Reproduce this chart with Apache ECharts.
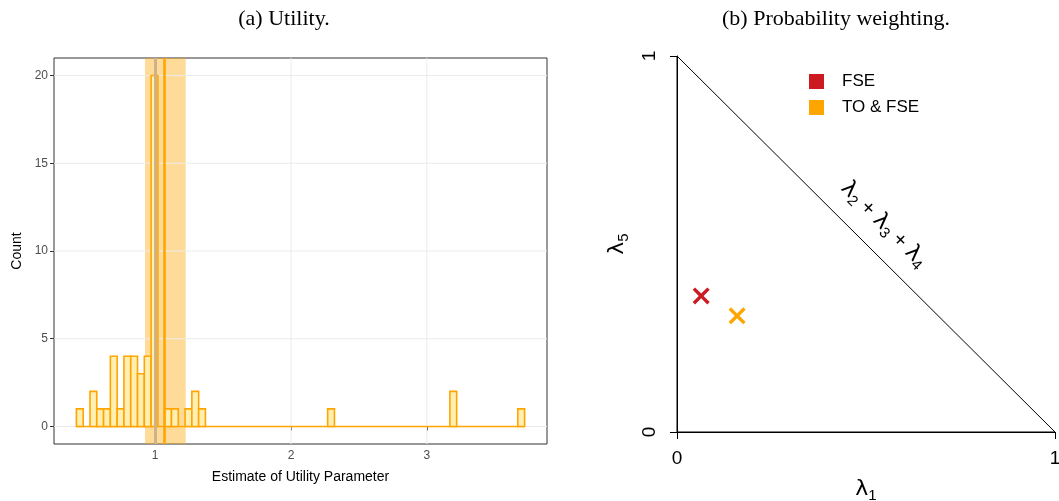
<!DOCTYPE html>
<html><head><meta charset="utf-8">
<script src="https://cdn.jsdelivr.net/npm/echarts@6/dist/echarts.min.js"></script>
<style>html,body{margin:0;padding:0;background:#fff}#c{width:1059px;height:501px}</style>
</head><body><div id="c"></div>
<script>
// ---- data (a) histogram ----
const binStart = 0.42;
const binWidth = 0.05;
const counts = [1,0,2,1,1,4,1,4,4,3,4,20,0,1,1,0,1,2,1,
  0,0,0,0,0,0,0,0,0,0,0,0,0,0,0,0,0,0,
  1,
  0,0,0,0,0,0,0,0,0,0,0,0,0,0,0,0,0,
  2,
  0,0,0,0,0,0,0,0,0,
  1];
const estimate = 1.075;
const bandLow = 0.925;
const bandHigh = 1.225;
const refLine = 1.0;
const xTicksA = [1, 2, 3];
const yTicksA = [0, 5, 10, 15, 20];
// ---- data (b) probability weighting ----
const triangle = [[0,0],[1,0],[0,1],[0,0]];
const fsePoint = [0.064, 0.362];
const toFsePoint = [0.159, 0.309];
const diagLabelPos = [0.547, 0.552];
const ticksB = [0, 1];

const ORANGE = '#FFA500';
const RED = '#CC1A20';
const histData = counts.map((c, i) => [binStart + i * binWidth, binStart + (i + 1) * binWidth, c]);
const baseLine = [[binStart, 0], [binStart + counts.length * binWidth, 0]];
const gridData = xTicksA.map(v => ['x', v]).concat(yTicksA.map(v => ['y', v]));
const X_PATH = 'path://M0,0.14 L0.14,0 L0.5,0.36 L0.86,0 L1,0.14 L0.64,0.5 L1,0.86 L0.86,1 L0.5,0.64 L0.14,1 L0,0.86 L0.36,0.5 Z';

const chart = echarts.init(document.getElementById('c'), null, {renderer: 'canvas'});
const subRich = {
  l: {fontFamily: 'DejaVu Sans', fontSize: 22, color: '#000'},
  s: {fontFamily: 'Liberation Sans', fontSize: 15, color: '#000', verticalAlign: 'bottom', padding: [12, 0, 0, 0]},
  p: {fontFamily: 'Liberation Sans', fontSize: 21, color: '#000'}
};
chart.setOption({
  animation: false,
  backgroundColor: '#fff',
  title: [
    {text: '(a) Utility.', left: 279, top: 3, textAlign: 'center',
     textStyle: {fontFamily: 'Liberation Serif', fontSize: 22, fontWeight: 'normal', color: '#000'}},
    {text: '(b) Probability weighting.', left: 831, top: 3, textAlign: 'center',
     textStyle: {fontFamily: 'Liberation Serif', fontSize: 22, fontWeight: 'normal', color: '#000'}}
  ],
  legend: {
    left: 804, top: 68, orient: 'vertical', icon: 'rect', itemWidth: 15, itemHeight: 15, itemGap: 9,
    data: ['FSE', 'TO & FSE'],
    textStyle: {fontFamily: 'Liberation Sans', fontSize: 17, color: '#000', padding: [0, 0, 0, 13]}
  },
  grid: [
    {left: 54, top: 58, width: 493, height: 386, show: true, borderColor: '#333', borderWidth: 1, backgroundColor: '#fff', containLabel: false, outerBoundsMode: 'none'},
    {left: 677, top: 56, width: 378, height: 376, show: false, containLabel: false, outerBoundsMode: 'none'}
  ],
  xAxis: [
    {gridIndex: 0, type: 'value', min: 0.255, max: 3.885,
     axisLine: {show: false},
     axisTick: {show: true, customValues: xTicksA, length: 4, lineStyle: {color: '#333'}},
     axisLabel: {customValues: xTicksA, color: '#4D4D4D', fontFamily: 'Liberation Sans', fontSize: 12, margin: 6},
     splitLine: {show: false},
     name: 'Estimate of Utility Parameter', nameLocation: 'middle', nameGap: 26,
     nameTextStyle: {fontFamily: 'Liberation Sans', fontSize: 14, color: '#000'}},
    {gridIndex: 1, type: 'value', min: 0, max: 1, interval: 1,
     axisLine: {show: true, onZero: false, lineStyle: {color: '#000', width: 1}},
     axisTick: {show: true, length: 7, lineStyle: {color: '#000'}},
     axisLabel: {color: '#000', fontFamily: 'Liberation Sans', fontSize: 19, margin: 17},
     splitLine: {show: false},
     name: '{l|λ}{s|1}', nameLocation: 'middle', nameGap: 44,
     nameTextStyle: {rich: subRich}}
  ],
  yAxis: [
    {gridIndex: 0, type: 'value', min: -1, max: 21,
     axisLine: {show: false},
     axisTick: {show: true, customValues: yTicksA, length: 4, lineStyle: {color: '#333'}},
     axisLabel: {customValues: yTicksA, color: '#4D4D4D', fontFamily: 'Liberation Sans', fontSize: 12, margin: 6},
     splitLine: {show: false},
     name: 'Count', nameLocation: 'middle', nameGap: 30, nameRotate: 90,
     nameTextStyle: {fontFamily: 'Liberation Sans', fontSize: 14, color: '#000'}},
    {gridIndex: 1, type: 'value', min: 0, max: 1, interval: 1,
     axisLine: {show: true, onZero: false, lineStyle: {color: '#000', width: 1}},
     axisTick: {show: true, length: 7, lineStyle: {color: '#000'}},
     axisLabel: {color: '#000', fontFamily: 'Liberation Sans', fontSize: 19, margin: 18, rotate: 90},
     splitLine: {show: false},
     name: '{l|λ}{s|5}', nameLocation: 'middle', nameGap: 46, nameRotate: 90,
     nameTextStyle: {rich: subRich}}
  ],
  series: [
    // grid lines (a)
    {type: 'custom', xAxisIndex: 0, yAxisIndex: 0, z: 1, silent: true, data: gridData,
     encode: {x: -1, y: -1},
     renderItem: function (params, api) {
       const cs = params.coordSys;
       const dir = api.value(0);
       const v = api.value(1);
       if (dir === 'x') {
         const x = api.coord([v, 0])[0];
         return {type: 'line', shape: {x1: x, y1: cs.y, x2: x, y2: cs.y + cs.height},
           style: {stroke: '#EBEBEB', lineWidth: 1}};
       }
       const y = api.coord([1, v])[1];
       return {type: 'line', shape: {x1: cs.x, y1: y, x2: cs.x + cs.width, y2: y},
         style: {stroke: '#EBEBEB', lineWidth: 1}};
     }},
    // histogram baseline (empty bins)
    {type: 'line', xAxisIndex: 0, yAxisIndex: 0, data: baseLine, z: 2, silent: true, symbol: 'none',
     lineStyle: {color: ORANGE, width: 1.6}},
    // histogram
    {type: 'custom', xAxisIndex: 0, yAxisIndex: 0, z: 3, data: histData,
     encode: {x: [0, 1], y: 2},
     renderItem: function (params, api) {
       if (!(api.value(2) > 0)) return null;
       const p0 = api.coord([api.value(0), 0]);
       const p1 = api.coord([api.value(1), api.value(2)]);
       return {type: 'rect',
         shape: {x: p0[0], y: p1[1], width: p1[0] - p0[0], height: p0[1] - p1[1]},
         style: {fill: '#FFEFB3', stroke: ORANGE, lineWidth: 1.6}};
     }},
    // band + estimate line
    {type: 'line', xAxisIndex: 0, yAxisIndex: 0, data: [], z: 4, silent: true,
     markArea: {silent: true, itemStyle: {color: 'rgba(255,165,0,0.4)'}, data: [[{xAxis: bandLow}, {xAxis: bandHigh}]]},
     markLine: {silent: true, symbol: 'none', label: {show: false}, animation: false,
       lineStyle: {color: ORANGE, width: 2.6, type: 'solid'},
       data: [{xAxis: estimate}]}},
    // reference line at 1
    {type: 'line', xAxisIndex: 0, yAxisIndex: 0, data: [], z: 5, silent: true,
     markLine: {silent: true, symbol: 'none', label: {show: false}, animation: false,
       lineStyle: {color: '#CFB287', width: 3, type: 'solid'},
       data: [{xAxis: refLine}]}},
    // triangle
    {type: 'line', xAxisIndex: 1, yAxisIndex: 1, data: triangle, symbol: 'none', silent: true,
     lineStyle: {color: '#000', width: 1}, z: 2},
    // diagonal label
    {type: 'scatter', xAxisIndex: 1, yAxisIndex: 1, data: [diagLabelPos], symbolSize: 1, silent: true,
     itemStyle: {color: 'rgba(0,0,0,0)', opacity: 1},
     label: {show: true, position: 'inside', rotate: -45,
       formatter: '{l|λ}{s|2}{p| + }{l|λ}{s|3}{p| + }{l|λ}{s|4}', rich: subRich}},
    {name: 'FSE', type: 'scatter', xAxisIndex: 1, yAxisIndex: 1, data: [fsePoint],
     symbol: X_PATH, symbolSize: 17, itemStyle: {color: RED, opacity: 1}, z: 5},
    {name: 'TO & FSE', type: 'scatter', xAxisIndex: 1, yAxisIndex: 1, data: [toFsePoint],
     symbol: X_PATH, symbolSize: 17, itemStyle: {color: ORANGE, opacity: 1}, z: 5}
  ]
});
</script></body></html>
